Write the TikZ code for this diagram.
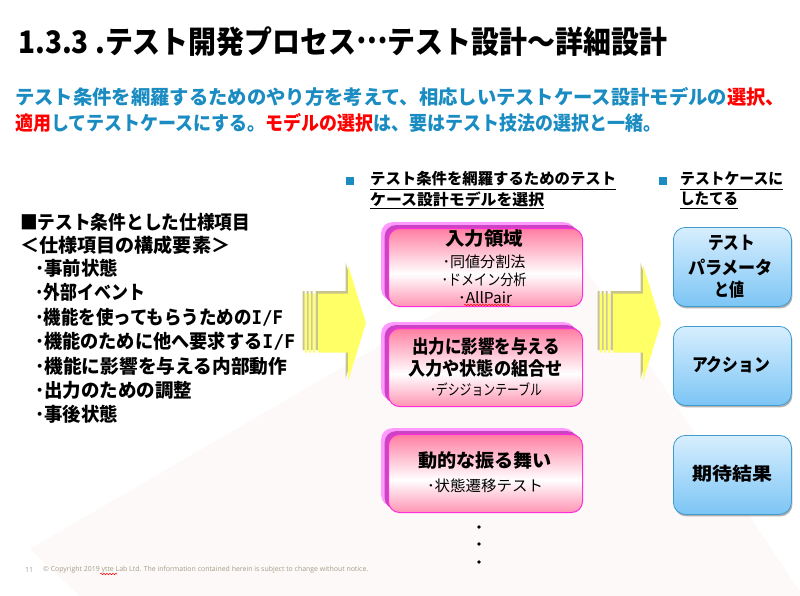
\documentclass[tikz,border=0pt]{standalone}
\usepackage{fontspec}
\usepackage{graphicx}
\setmainfont{Noto Sans CJK JP}
\newfontfamily\footfont{Open Sans}
\newfontfamily\monof{DejaVu Sans Mono}
\usetikzlibrary{shadows,decorations.pathmorphing}
\definecolor{tealb}{HTML}{1A8CC1}
\definecolor{redt}{HTML}{FF0000}
\definecolor{pinktop}{HTML}{FF7EA2}
\definecolor{pinkbot}{HTML}{FF94B4}
\definecolor{pinkedge}{HTML}{FF2EDB}
\definecolor{pinkbackA}{HTML}{FF9AFF}
\definecolor{pinkbackB}{HTML}{CC44C4}
\definecolor{bluetop}{HTML}{D7EEFE}
\definecolor{bluebot}{HTML}{7CC5F5}
\definecolor{blueedge}{HTML}{3D9BCD}
\definecolor{yel}{HTML}{FFFF66}
\definecolor{yelsh}{HTML}{C9C48A}
\definecolor{footgray}{HTML}{A39D88}
\definecolor{bgfaint}{HTML}{FCF9F8}
\pgfdeclareverticalshading{pinksh}{100bp}{color(0bp)=(pinkbot); color(25bp)=(pinkbot); color(46bp)=(white); color(75bp)=(pinktop); color(100bp)=(pinktop)}
\newcommand\fitw[2]{\resizebox{#1pt}{\height}{#2}}
\tikzset{
  txt/.style={inner sep=0pt, text=black},
  ttl/.style={txt, anchor=west, font=\fontsize{31}{32}\selectfont\bfseries},
  sub/.style={txt, anchor=west, font=\fontsize{19.5}{20}\selectfont\bfseries},
  lst/.style={txt, anchor=west, font=\fontsize{19}{20}\selectfont\bfseries},
  hdr/.style={txt, anchor=west, font=\fontsize{15.5}{16}\selectfont\bfseries},
  boxb/.style={txt, font=\fontsize{18.5}{19}\selectfont\bfseries},
  boxr/.style={txt, font=\fontsize{15}{16}\selectfont},
  bluet/.style={txt, font=\fontsize{18}{19}\selectfont\bfseries},
  foot/.style={txt, anchor=west, text=footgray, font=\footfont\fontsize{7}{8}\selectfont},
  pinkgeom/.style={rectangle, rounded corners=11pt, minimum width=194pt, minimum height=78pt, inner sep=0pt},
  bluebox/.style={rectangle, rounded corners=12pt, minimum width=118pt, minimum height=79pt,
    inner sep=0pt, draw=blueedge, line width=0.8pt, top color=bluetop, bottom color=bluebot,
    drop shadow={shadow xshift=1pt, shadow yshift=-2pt, opacity=0.3, fill=black}},
  sq/.style={fill=tealb},
  uline/.style={line width=1.1pt, black},
  wavy/.style={red, line width=0.5pt, decorate, decoration={snake, amplitude=0.7pt, segment length=3pt}},
  yarrow/.pic={
    \begin{scope}[shift={(-2.5,-2.5)}]
      \fill[yelsh] (0,-29.5) rectangle (2,29.5) (4,-29.5) rectangle (6,29.5) (8,-29.5) rectangle (10,29.5)
        (13,-29.5) -- (43,-29.5) -- (43,-58) -- (61,0) -- (43,58) -- (43,29.5) -- (13,29.5) -- cycle;
    \end{scope}
    \fill[yel] (0,-29.5) rectangle (2,29.5) (4,-29.5) rectangle (6,29.5) (8,-29.5) rectangle (10,29.5)
      (13,-29.5) -- (43,-29.5) -- (43,-58) -- (61,0) -- (43,58) -- (43,29.5) -- (13,29.5) -- cycle;
  }
}
\newcommand\pinkbox[3]{%
  \node[pinkgeom, fill=pinkbackA, anchor=north west] (#1a) at (#2-7,#3-6) {};
  \node[pinkgeom, fill=pinkbackB, anchor=north west] (#1b) at (#2-3.5,#3-3) {};
  \node[pinkgeom, draw=pinkedge, line width=1pt, shade, shading=pinksh, anchor=north west] (#1) at (#2,#3) {};}
\begin{document}
\begin{tikzpicture}[x=1pt,y=-1pt]
\useasboundingbox (0,0) rectangle (800,596);
\fill[white] (0,0) rectangle (800,596);
\fill[bgfaint] (565,238) -- (800,592) -- (800,596) -- (80,596) -- (30,549) -- cycle;

% title and subtitle
\node[ttl] (title) at (18,42) {\fitw{649}{1.3.3 .テスト開発プロセス\raisebox{0.32em}{…}テスト設計～詳細設計}};
\node[sub] (sub1) at (15,97) {\fitw{770}{\color{tealb}テスト条件を網羅するためのやり方を考えて、相応しいテストケース設計モデルの\color{redt}選択、}};
\node[sub] (sub2) at (15,123) {\fitw{646}{\color{redt}適用\color{tealb}してテストケースにする。\color{redt}モデルの選択\color{tealb}は、要はテスト技法の選択と一緒。}};

% left list
\node[lst] (l1) at (20,222) {\fitw{230}{■テスト条件とした仕様項目}};
\node[lst] (l2) at (20,245) {\fitw{210}{＜仕様項目の構成要素＞}};
\node[lst] (l3) at (35,268) {\fitw{83}{･事前状態}};
\node[lst] (l4) at (35,292) {\fitw{110}{･外部イベント}};
\node[lst] (l5) at (35,317) {\fitw{248}{･機能を使ってもらうための{\monof\bfseries I/F}}};
\node[lst] (l6) at (35,341) {\fitw{260}{･機能のために他へ要求する{\monof\bfseries I/F}}};
\node[lst] (l7) at (35,366) {\fitw{252}{･機能に影響を与える内部動作}};
\node[lst] (l8) at (35,390) {\fitw{157}{･出力のための調整}};
\node[lst] (l9) at (35,414) {\fitw{83}{･事後状態}};

% column headers
\fill[sq] (346,177.5) rectangle (354,185.5);
\node[hdr] (h1) at (370,179) {\fitw{246}{テスト条件を網羅するためのテスト}};
\node[hdr] (h2) at (370,199) {\fitw{174}{ケース設計モデルを選択}};
\draw[uline] (h1.west |- 0,189.5) -- (h1.east |- 0,189.5);
\draw[uline] (h2.west |- 0,208.5) -- (h2.east |- 0,208.5);
\fill[sq] (659,177.5) rectangle (667,185.5);
\node[hdr] (h3) at (680,179) {\fitw{103}{テストケースに}};
\node[hdr] (h4) at (680,199) {\fitw{58}{したてる}};
\draw[uline] (h3.west |- 0,189.5) -- (h3.east |- 0,189.5);
\draw[uline] (h4.west |- 0,208.5) -- (h4.east |- 0,208.5);

% arrows
\pic at (305,323) {yarrow};
\pic at (600,323) {yarrow};

% pink boxes
\pinkbox{p1}{388}{228}
\pinkbox{p2}{388}{328}
\pinkbox{p3}{388}{434}
\node[boxb] (p1t) at (484,239) {\fitw{78}{入力領域}};
\node[boxr] (p1a) at (484,262) {\fitw{83}{･同値分割法}};
\node[boxr] (p1b) at (484,280) {\fitw{85}{･ドメイン分析}};
\node[boxr] (p1c) at (485,298) {\fitw{54}{･AllPair}};
\draw[wavy] (464,305) -- (510,305);
\node[boxb] (p2t) at (486,347) {\fitw{148}{出力に影響を与える}};
\node[boxb] (p2u) at (485.5,368) {\fitw{155}{入力や状態の組合せ}};
\node[boxr] (p2a) at (486,389) {\fitw{112}{･デシジョンテーブル}};
\node[boxb] (p3t) at (485,461) {\fitw{134}{動的な振る舞い}};
\node[boxr] (p3a) at (485,486) {\fitw{116}{･状態遷移テスト}};

% dots
\fill (479,527) circle (1.8) (479,544) circle (1.8) (479,562) circle (1.8);

% blue boxes
\node[bluebox, anchor=north west] (b1) at (673,227) {};
\node[bluebox, anchor=north west] (b2) at (673,326) {};
\node[bluebox, anchor=north west] (b3) at (673,435) {};
\node[bluet] (b1a) at (731.5,242.5) {\fitw{47}{テスト}};
\node[bluet] (b1b) at (730.5,267) {\fitw{85}{パラメータ}};
\node[bluet] (b1c) at (729,290) {\fitw{30}{と値}};
\node[bluet] (b2a) at (731,365) {\fitw{78}{アクション}};
\node[bluet] (b3a) at (732,474) {\fitw{80}{期待結果}};

% footer
\node[foot] (pg) at (25,570) {11};
\node[foot] (copy) at (43,570) {\fitw{325}{© Copyright 2019 ytte Lab Ltd. The information contained herein is subject to change without notice.}};
\draw[wavy] (100,574) -- (117,574);
\end{tikzpicture}
\end{document}
